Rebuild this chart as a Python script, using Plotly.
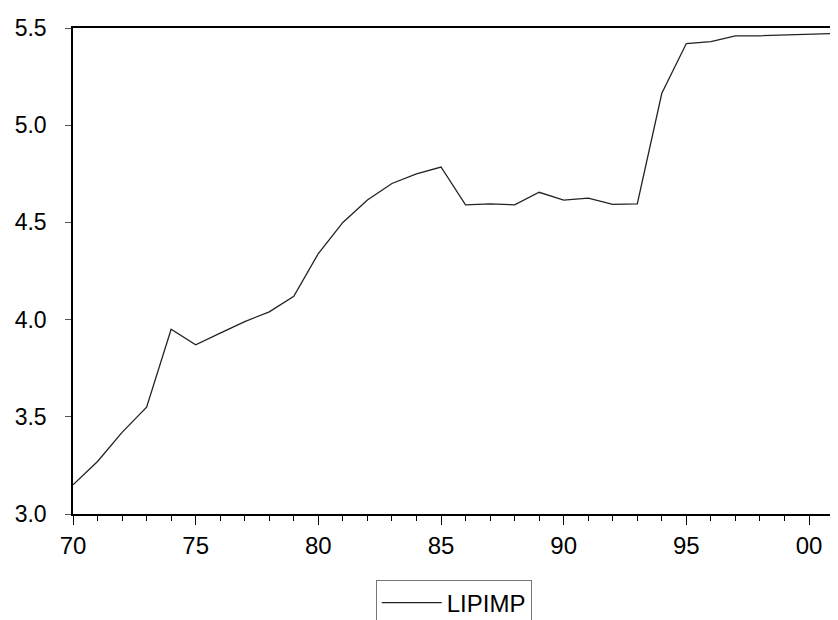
import plotly.graph_objects as go

years = list(range(1970, 2002))
lipimp = [3.15, 3.27, 3.42, 3.55, 3.95, 3.87, 3.93, 3.99, 4.04, 4.12,
          4.34, 4.50, 4.615, 4.70, 4.75, 4.785, 4.59, 4.595, 4.59, 4.655,
          4.615, 4.625, 4.593, 4.595, 5.164, 5.42, 5.43, 5.459, 5.46, 5.465,
          5.469, 5.472]
tick_years = [1970, 1975, 1980, 1985, 1990, 1995, 2000]
tick_labels = ["70", "75", "80", "85", "90", "95", "00"]
y_ticks = [3.0, 3.5, 4.0, 4.5, 5.0, 5.5]

fig = go.Figure()
fig.add_trace(go.Scatter(
    x=years, y=lipimp, mode="lines", name="LIPIMP",
    line=dict(color="#222222", width=1.3),
))

font_family = "Liberation Sans, Arial, sans-serif"
fig.update_layout(
    width=830, height=612,
    margin=dict(l=65, r=2, t=20, b=106, autoexpand=False),
    paper_bgcolor="white", plot_bgcolor="white",
    showlegend=True,
    legend=dict(
        orientation="h", x=0.499, xanchor="center", y=-0.135, yanchor="top",
        bordercolor="#777777", borderwidth=1,
        font=dict(family=font_family, size=24, color="black"),
        itemwidth=60,
    ),
    xaxis=dict(
        range=[1970, 2001.1], automargin=False,
        tickvals=tick_years, ticktext=tick_labels,
        ticks="outside", ticklen=9, tickwidth=1, tickcolor="black",
        minor=dict(dtick=1, ticks="outside", ticklen=5, tickcolor="black", tickwidth=1),
        showline=True, linecolor="black", linewidth=1.5, mirror=True,
        showgrid=False, zeroline=False,
        tickfont=dict(family=font_family, size=24, color="black"),
    ),
    yaxis=dict(
        range=[3.0, 5.5], automargin=False,
        tickvals=y_ticks, ticktext=["%.1f" % v for v in y_ticks],
        ticks="outside", ticklen=6, tickwidth=1, tickcolor="#555555",
        showline=True, linecolor="black", linewidth=1.5, mirror=True,
        showgrid=False, zeroline=False,
        ticklabelstandoff=14,
        tickfont=dict(family=font_family, size=23, color="black"),
    ),
)

fig.write_html("out.html")
